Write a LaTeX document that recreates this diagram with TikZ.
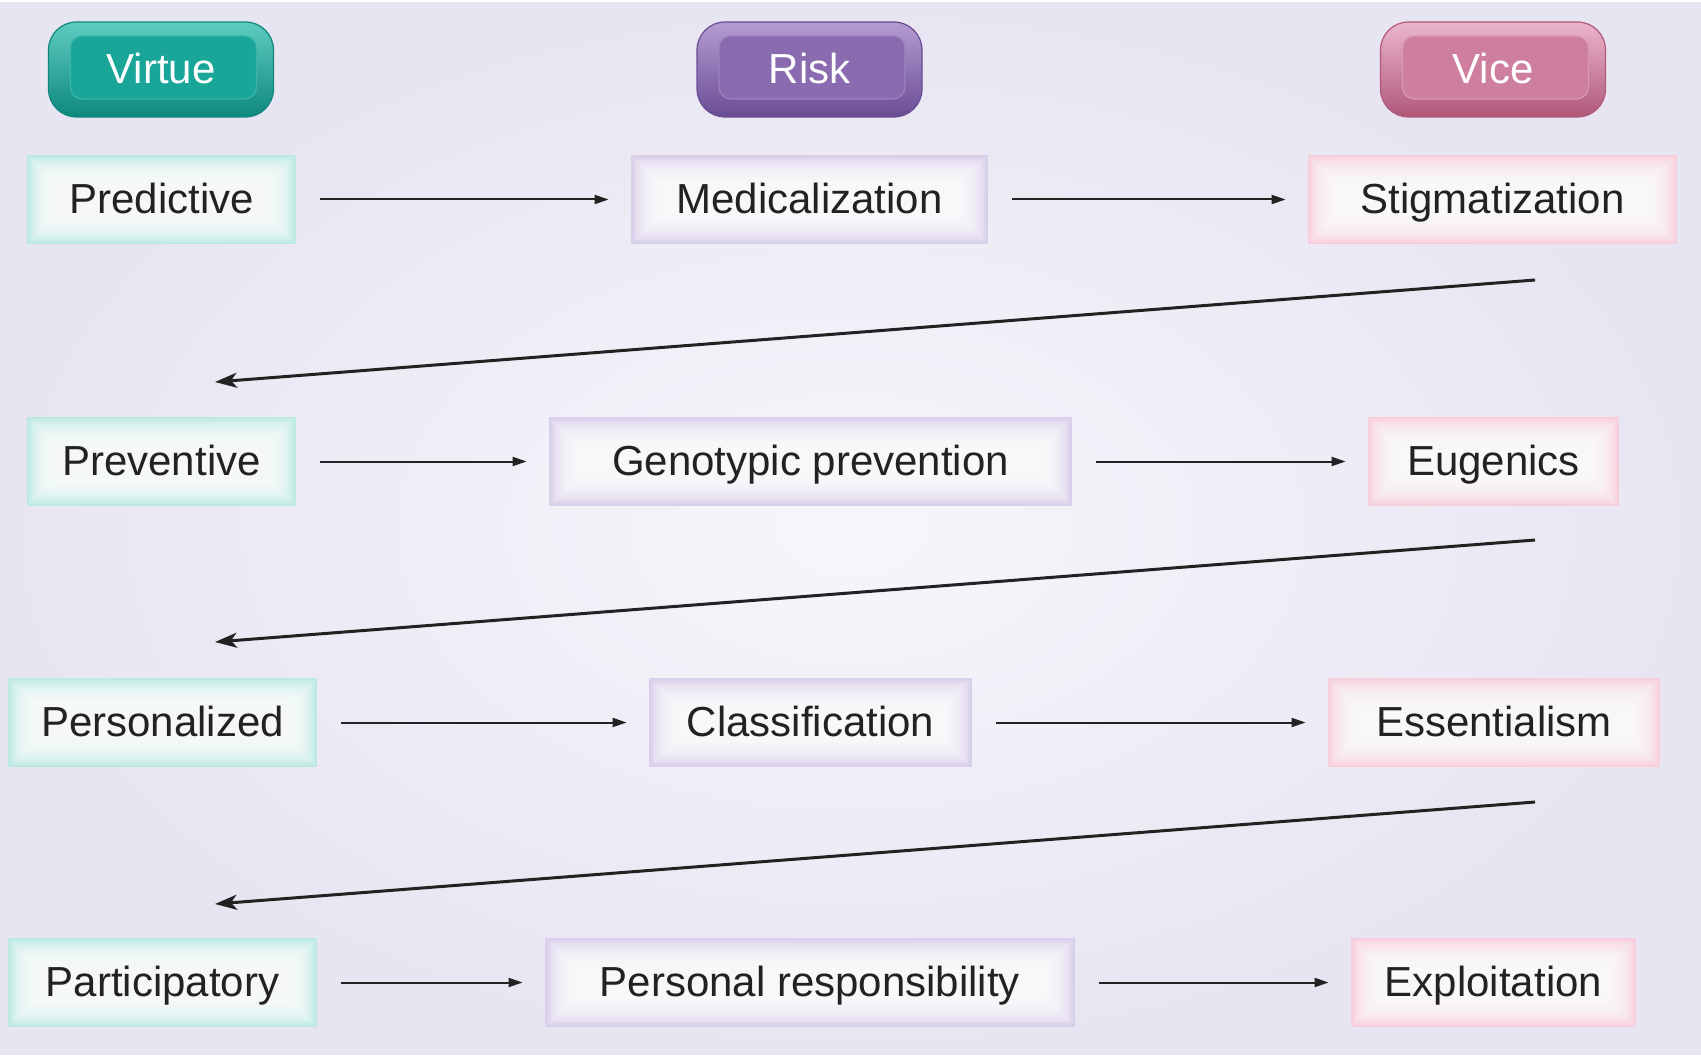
\documentclass[tikz,border=0pt]{standalone}
\usepackage{fontspec}
\setmainfont{Liberation Sans}
\usetikzlibrary{arrows.meta}
\definecolor{bgin}{HTML}{F7F6FB}
\definecolor{bgout}{HTML}{E7E5F1}
\definecolor{txt}{HTML}{222222}
% header colours
\definecolor{TD}{HTML}{0E887D}
\definecolor{TB}{HTML}{19A598}
\definecolor{TL}{HTML}{5FCBC0}
\definecolor{PD}{HTML}{6A4C94}
\definecolor{PB}{HTML}{8A6BB0}
\definecolor{PL}{HTML}{B49CD2}
\definecolor{KD}{HTML}{B0577A}
\definecolor{KB}{HTML}{CE7F9E}
\definecolor{KL}{HTML}{EBB6CB}
% box edge colours
\definecolor{Tbox}{HTML}{BDE9E3}
\definecolor{Pbox}{HTML}{D8CFEA}
\definecolor{Kbox}{HTML}{F7CFDC}
\tikzset{
  lbl/.style={font=\fontsize{21}{25}\selectfont, text=txt, text height=15pt, text depth=1pt},
  glow/.style={lbl, fill=#1, inner sep=0pt, minimum height=44.5pt,
    path picture={
      \foreach \i in {1,...,16}{
        \fill[white,opacity=0.14]
          ([shift={(\i*0.9pt,-\i*0.9pt)}]path picture bounding box.north west)
          rectangle
          ([shift={(-\i*0.9pt,\i*0.9pt)}]path picture bounding box.south east);
      }}},
  hdr/.style={rounded corners=14pt, minimum width=112.5pt, minimum height=47.5pt,
    inner sep=0pt, text=white, font=\fontsize{21}{25}\selectfont,
    text height=15pt, text depth=1pt,
    top color=#1L, bottom color=#1D, draw=#1D, line width=0.6pt,
    path picture={
      \fill[#1B, draw=#1B!55!#1L, line width=0.6pt, rounded corners=6pt]
        ([shift={(11pt,-7pt)}]path picture bounding box.north west)
        rectangle
        ([shift={(-8.5pt,9pt)}]path picture bounding box.south east);
    }},
  harrow/.style={-{Triangle[length=7pt,width=4.5pt]}, line width=1pt, draw=txt,
    shorten <=12pt, shorten >=11pt},
  darrow/.style={-{Stealth[length=11pt,width=7.5pt,inset=3pt]}, line width=1.5pt, draw=txt},
}
\begin{document}
\begin{tikzpicture}[x=0.5pt,y=-0.5pt]
\useasboundingbox (0,0) rectangle (1701,1059);
\fill[white] (0,0) rectangle (1701,1059);
\shade[inner color=bgin, outer color=bgout] (0,3) rectangle (1701,1054);

% headers
\node[hdr=T] (virtue) at (161,69.5) {Virtue};
\node[hdr=P] (risk) at (809.5,69.5) {Risk};
\node[hdr=K] (vice) at (1493,69.5) {Vice};

% row 1
\node[glow=Tbox, minimum width=134.5pt] (pred) at (161.5,199.5) {Predictive};
\node[glow=Pbox, minimum width=178.5pt] (med) at (809.5,199.5) {Medicalization};
\node[glow=Kbox, minimum width=184.5pt] (stig) at (1492.5,199.5) {Stigmatization};
% row 2
\node[glow=Tbox, minimum width=134.5pt] (prev) at (161.5,461.5) {Preventive};
\node[glow=Pbox, minimum width=261.5pt] (geno) at (810.5,461.5) {Genotypic prevention};
\node[glow=Kbox, minimum width=125.5pt] (eug) at (1493.5,461.5) {Eugenics};
% row 3
\node[glow=Tbox, minimum width=154.5pt] (pers) at (162.5,722.5) {Personalized};
\node[glow=Pbox, minimum width=161.5pt] (class) at (810.5,722.5) {Classification};
\node[glow=Kbox, minimum width=166pt] (ess) at (1494,722.5) {Essentialism};
% row 4
\node[glow=Tbox, minimum width=154.5pt] (part) at (162.5,982.5) {Participatory};
\node[glow=Pbox, minimum width=265pt] (resp) at (810,982.5) {Personal responsibility};
\node[glow=Kbox, minimum width=142.5pt] (expl) at (1493.5,982.5) {Exploitation};

% horizontal connectors
\draw[harrow] (pred) -- (med);
\draw[harrow] (med) -- (stig);
\draw[harrow] (prev) -- (geno);
\draw[harrow] (geno) -- (eug);
\draw[harrow] (pers) -- (class);
\draw[harrow] (class) -- (ess);
\draw[harrow] (part) -- (resp);
\draw[harrow] (resp) -- (expl);

% diagonal connectors
\coordinate (d1s) at (1535,280);
\coordinate (d1e) at (215,382);
\coordinate (d2s) at (1535,540);
\coordinate (d2e) at (215,642);
\coordinate (d3s) at (1535,802);
\coordinate (d3e) at (215,904);
\draw[darrow] (d1s) -- (d1e);
\draw[darrow] (d2s) -- (d2e);
\draw[darrow] (d3s) -- (d3e);
\end{tikzpicture}
\end{document}
